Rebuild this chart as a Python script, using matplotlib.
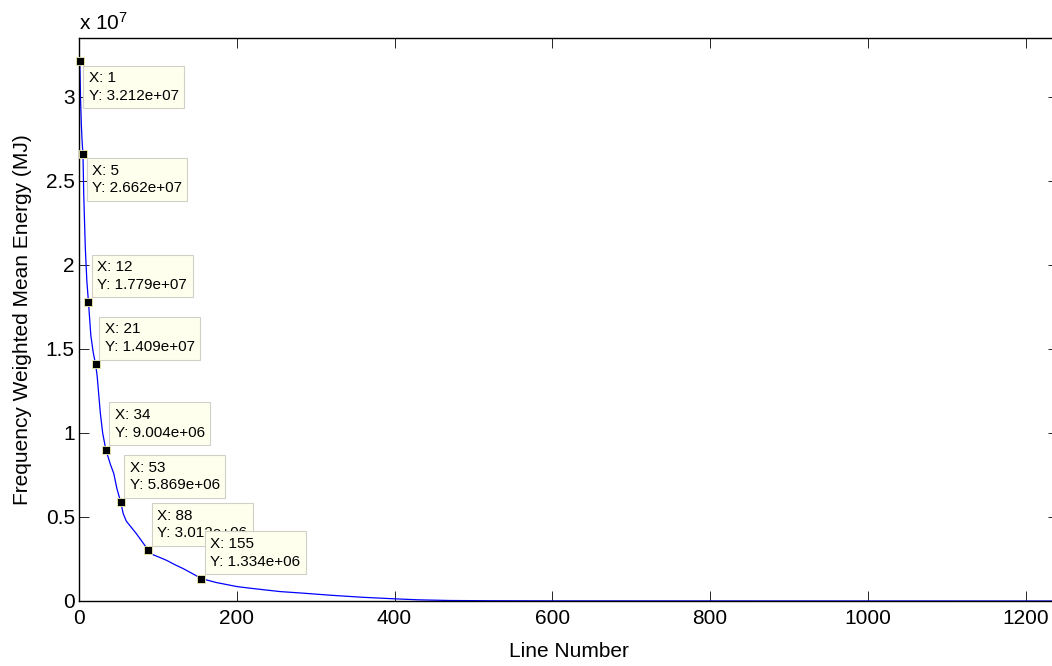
import matplotlib
matplotlib.use('Agg')
import matplotlib.pyplot as plt
from matplotlib.ticker import FuncFormatter, MultipleLocator

plt.rcParams['font.family'] = ['Liberation Sans', 'DejaVu Sans']
plt.rcParams['mathtext.default'] = 'regular'

# line number vs. frequency weighted mean energy (MJ), sorted descending
line_no = [1, 2, 3, 4, 5, 6, 8, 10, 12, 15, 18, 21, 23, 27, 30, 34, 40, 44, 48, 53,
           56, 60, 66, 72, 79, 88, 94, 103, 111, 122, 132, 143, 155, 174, 200, 217,
           255, 280, 320, 360, 400, 430, 470, 520, 600, 800, 1000, 1241]
energy = [3.212e7, 2.98e7, 2.83e7, 2.73e7, 2.662e7, 2.42e7, 2.10e7, 1.90e7, 1.779e7,
          1.58e7, 1.48e7, 1.409e7, 1.34e7, 1.12e7, 1.0e7, 9.004e6, 8.1e6, 7.6e6,
          6.7e6, 5.869e6, 5.2e6, 4.75e6, 4.4e6, 4.05e6, 3.6e6, 3.012e6, 2.75e6,
          2.58e6, 2.42e6, 2.15e6, 1.93e6, 1.65e6, 1.334e6, 1.1e6, 0.86e6, 0.76e6,
          0.56e6, 0.48e6, 0.34e6, 0.22e6, 0.13e6, 0.07e6, 0.03e6, 0.015e6, 0.008e6,
          0.004e6, 0.002e6, 0.0]

# data tips: line number, value, whether the box sits below the point
tip_x = [1, 5, 12, 21, 34, 53, 88, 155]
tip_y = [3.212e7, 2.662e7, 1.779e7, 1.409e7, 9.004e6, 5.869e6, 3.012e6, 1.334e6]
tip_below = [True, True, False, False, False, False, False, False]

fig = plt.figure(figsize=(10.52, 6.66), dpi=100)
ax = fig.add_axes([79 / 1052, 65 / 666, 979 / 1052, 563 / 666])

ax.plot(line_no, energy, color=(0, 0, 1), lw=0.9, zorder=2)

for x, y, below in zip(tip_x, tip_y, tip_below):
    ax.plot(x, y, 's', ms=5.5, mfc='black', mec='#f2f0b0', mew=0.6, zorder=4,
            clip_on=False)
    ax.annotate('X: %d\nY: %.3e' % (x, y), xy=(x, y),
                xytext=(9, -10 if below else 10), textcoords='offset pixels',
                ha='left', va='top' if below else 'bottom', fontsize=11,
                linespacing=1.35, zorder=5,
                bbox=dict(boxstyle='square,pad=0.35', fc='#ffffee', ec='#d0d0c8',
                          lw=0.8))

ax.set_xlim(0, 1241)
ax.set_ylim(0, 3.35e7)
ax.xaxis.set_major_locator(MultipleLocator(200))
ax.yaxis.set_major_locator(MultipleLocator(0.5e7))
ax.yaxis.set_major_formatter(FuncFormatter(lambda v, p: '%g' % (v / 1e7)))

ax.tick_params(direction='in', length=7, width=0.6, labelsize=15,
               top=True, right=True)
ax.tick_params(axis='x', pad=6)
ax.tick_params(axis='y', pad=3)
for s in ax.spines.values():
    s.set_linewidth(1.0)
ax.spines['right'].set_visible(False)

ax.text(0, 1.008, r'x 10$^{7}$', transform=ax.transAxes, fontsize=15,
        ha='left', va='bottom')

ax.set_xlabel('Line Number', fontsize=15)
ax.set_ylabel('Frequency Weighted Mean Energy (MJ)', fontsize=15)
ax.xaxis.set_label_coords(0.5, -0.072)
ax.yaxis.set_label_coords(-0.048, 0.5)

fig.savefig('out.png', dpi=100)
